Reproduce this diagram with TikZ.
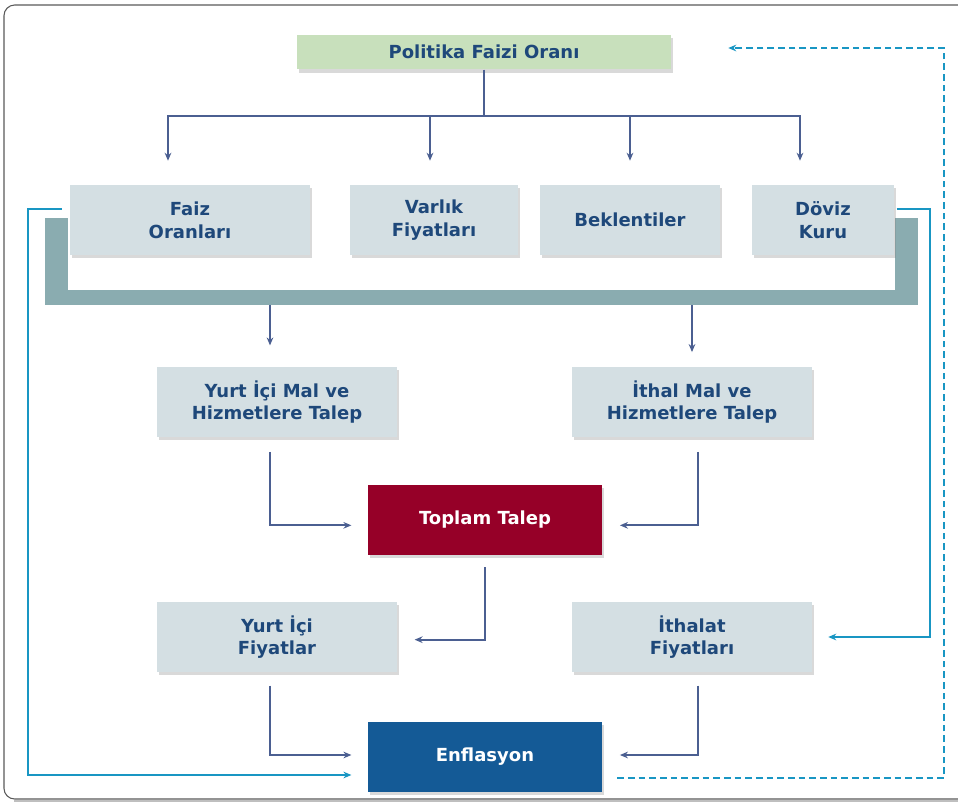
\documentclass[tikz,border=0pt]{standalone}
\usepackage{fontspec}
\setmainfont{DejaVu Sans}
\usetikzlibrary{arrows.meta,shadows,calc}

\definecolor{boxfill}{RGB}{212,223,227}
\definecolor{greenfill}{RGB}{200,224,188}
\definecolor{barcol}{RGB}{138,172,176}
\definecolor{textblue}{RGB}{30,72,122}
\definecolor{linkcol}{RGB}{75,95,145}
\definecolor{cyancol}{RGB}{25,150,195}
\definecolor{redfill}{RGB}{150,0,40}
\definecolor{bluefill}{RGB}{20,90,150}

\begin{document}
\begin{tikzpicture}[x=0.75pt,y=-0.75pt,
		box/.style={rectangle,fill=boxfill,align=center,text=textblue,
			font={\fontsize{13.5}{17}\selectfont\bfseries},
			minimum height=52.5pt,inner sep=0pt,
			drop shadow={shadow xshift=1.5pt,shadow yshift=-2.5pt,opacity=0.3}},
		linkarrow/.style={draw=linkcol,line width=1.3pt,-{Stealth[length=6pt,width=5pt]}},
		cyanarrow/.style={draw=cyancol,line width=1.5pt,-{Stealth[length=6pt,width=5pt]}},
		feedback/.style={cyanarrow,dashed,dash pattern=on 5pt off 3pt}]

				\useasboundingbox (0,0) rectangle (958,808);
				% frame
				\draw[gray!70!black,line width=0.8pt,rounded corners=8pt] (975,5) -- (4,5) -- (4,799) -- (975,799);
				\draw[gray!50,line width=1.5pt] (14,801) -- (975,801);

				% thick bar
				\fill[barcol] (45,218) rectangle (68,305);
				\fill[barcol] (45,290) rectangle (918,305);
				\fill[barcol] (895,218) rectangle (918,305);

				\node[box,fill=greenfill,minimum width=280pt,minimum height=26pt] (politika) at (484,52) {Politika Faizi Oranı};

				\node[box,minimum width=180pt] (faiz) at (190,220) {Faiz\\Oranları};
				\node[box,minimum width=126pt] (varlik) at (434,220) {Varlık\\Fiyatları};
				\node[box,minimum width=135pt] (beklenti) at (630,220) {Beklentiler};
				\node[box,minimum width=107pt] (doviz) at (823,220) {Döviz\\Kuru};

				\node[box,minimum width=180pt] (yurtTalep) at (277,402) {Yurt İçi Mal ve\\Hizmetlere Talep};
				\node[box,minimum width=180pt] (ithalTalep) at (692,402) {İthal Mal ve\\Hizmetlere Talep};

				\node[box,fill=redfill,text=white,minimum width=176pt] (toplam) at (485,520) {Toplam Talep};

				\node[box,minimum width=180pt] (yurtFiyat) at (277,637) {Yurt İçi\\Fiyatlar};
				\node[box,minimum width=180pt] (ithalFiyat) at (692,637) {İthalat\\Fiyatları};

				\node[box,fill=bluefill,text=white,minimum width=176pt] (enflasyon) at (485,757) {Enflasyon};

				% split from the policy rate
				\coordinate (split) at (484,116);
				\draw[linkcol,line width=1.3pt] (politika.south) -- (split);
				\draw[linkarrow,shorten >=18pt] (split) -| ($(faiz.north)+(-22,0)$);
				\draw[linkarrow,shorten >=18pt] (split) -| ($(varlik.north)+(-4,0)$);
				\draw[linkarrow,shorten >=18pt] (split) -| (beklenti.north);
				\draw[linkarrow,shorten >=18pt] (split) -| ($(doviz.north)+(-23,0)$);

				% from the bar down to demand
				\coordinate (barL) at (270,305);
				\coordinate (barR) at (692,305);
				\draw[linkarrow,shorten >=16pt] (barL) -- (barL |- yurtTalep.north);
				\draw[linkarrow,shorten >=11pt] (barR) -- (barR |- ithalTalep.north);

				% demand to total demand
				\draw[linkarrow,shorten <=11pt,shorten >=12pt] ([xshift=-5pt]yurtTalep.south) |- ([yshift=-4pt]toplam.west);
				\draw[linkarrow,shorten <=11pt,shorten >=13pt] ([xshift=4.5pt]ithalTalep.south) |- ([yshift=-4pt]toplam.east);

				% total demand to domestic prices
				\draw[linkarrow,shorten <=9pt,shorten >=13pt] (toplam.south) |- ([yshift=-2pt]yurtFiyat.east);

				% prices to inflation
				\draw[linkarrow,shorten <=10pt,shorten >=12pt] ([xshift=-5pt]yurtFiyat.south) |- ([yshift=1.5pt]enflasyon.west);
				\draw[linkarrow,shorten <=10pt,shorten >=13pt] ([xshift=4.5pt]ithalFiyat.south) |- ([yshift=1.5pt]enflasyon.east);

				% direct channels
				\coordinate (lrail) at (28,775);
				\coordinate (rrail) at (930,637);
				\draw[cyanarrow,shorten >=12pt] ([xshift=-6pt,yshift=8pt]faiz.west) -| (lrail) -- ([yshift=-13.5pt]enflasyon.west);
				\draw[cyanarrow,shorten >=12pt] ([xshift=1.5pt,yshift=8pt]doviz.east) -| (rrail) -- (ithalFiyat.east);

				% feedback to the policy rate
				\coordinate (fb1) at (944,778);
				\coordinate (fb2) at (944,48);
				\draw[feedback,shorten <=11pt,shorten >=43pt] ([yshift=-15.75pt]enflasyon.east) -- (fb1) -- (fb2) -- ([yshift=3pt]politika.east);

			\end{tikzpicture}
\end{document}
